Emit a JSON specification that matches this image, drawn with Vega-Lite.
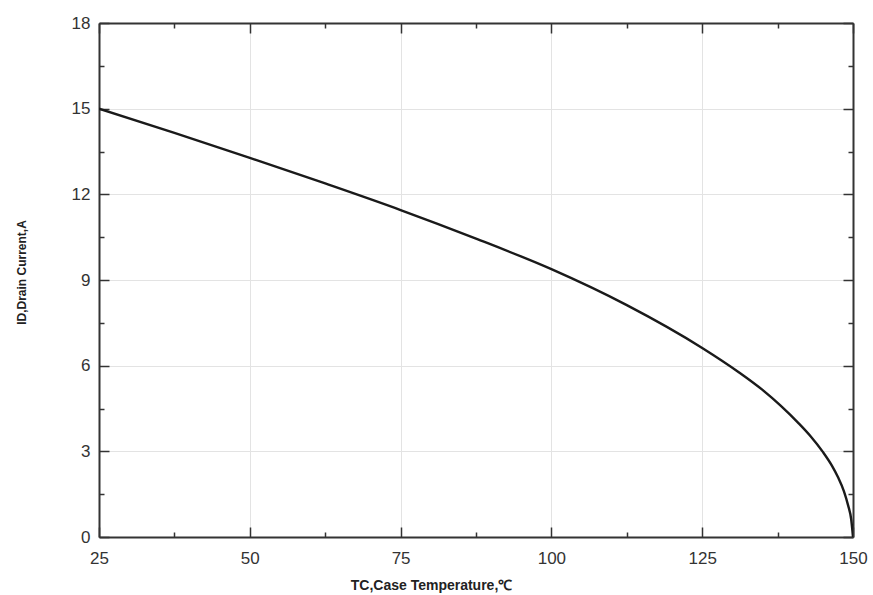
{
  "$schema": "https://vega.github.io/schema/vega-lite/v6.json",
  "autosize": {"type": "none"},
  "padding": {"left": 99, "top": 23, "right": 20, "bottom": 58},
  "width": 754,
  "height": 514,
  "background": "white",
  "config": {"view": {"stroke": null}},
  "data": {
    "values": [
      {"T": 25, "I": 15.0},
      {"T": 37.5, "I": 14.15},
      {"T": 50, "I": 13.28},
      {"T": 62.5, "I": 12.38},
      {"T": 75, "I": 11.45},
      {"T": 87.5, "I": 10.45},
      {"T": 100, "I": 9.38},
      {"T": 112.5, "I": 8.12},
      {"T": 125, "I": 6.62},
      {"T": 131, "I": 5.78},
      {"T": 135, "I": 5.15},
      {"T": 138, "I": 4.6},
      {"T": 141, "I": 3.98},
      {"T": 143, "I": 3.52},
      {"T": 145, "I": 2.98},
      {"T": 146.5, "I": 2.5},
      {"T": 147.5, "I": 2.1},
      {"T": 148.5, "I": 1.6},
      {"T": 149.2, "I": 1.1},
      {"T": 149.7, "I": 0.62},
      {"T": 150, "I": 0}
    ]
  },
  "layer": [
    {
      "mark": {"type": "line", "color": "#1a1a1a", "strokeWidth": 2.4, "interpolate": "monotone", "clip": true},
      "encoding": {
        "x": {
          "field": "T", "type": "quantitative",
          "scale": {"domain": [25, 150], "nice": false, "zero": false},
          "axis": {
            "orient": "bottom",
            "values": [25, 37.5, 50, 62.5, 75, 87.5, 100, 112.5, 125, 137.5, 150],
            "labelExpr": "datum.value % 25 === 0 ? datum.label : ''",
            "title": "TC,Case Temperature,℃",
            "titleFont": "Liberation Sans", "titleFontSize": 14, "titleFontWeight": "bold", "titleColor": "#222",
            "titleX": 332, "titleY": 48, "titleBaseline": "middle", "titleAlign": "center",
            "labelFont": "Liberation Sans", "labelFontSize": 17, "labelColor": "#333",
            "labelPadding": 23, "labelFlush": false,
            "tickSize": {"condition": {"test": "datum.value % 25 === 0", "value": -10}, "value": -5},
            "tickColor": "#333", "tickWidth": 1.5,
            "domainColor": "#333", "domainWidth": 2,
            "grid": true, "gridColor": "#e3e3e3", "gridWidth": 1,
            "gridOpacity": {"condition": {"test": "datum.value % 25 === 0", "value": 1}, "value": 0}
          }
        },
        "y": {
          "field": "I", "type": "quantitative",
          "scale": {"domain": [0, 18], "nice": false},
          "axis": {
            "orient": "left",
            "values": [0, 1.5, 3, 4.5, 6, 7.5, 9, 10.5, 12, 13.5, 15, 16.5, 18],
            "labelExpr": "datum.value % 3 === 0 ? datum.label : ''",
            "title": "ID,Drain Current,A",
            "titleFont": "Liberation Sans", "titleFontSize": 12, "titleFontWeight": "bold", "titleColor": "#222",
            "titleX": -78, "titleY": 249, "titleAngle": -90, "titleBaseline": "middle", "titleAlign": "center",
            "labelFont": "Liberation Sans", "labelFontSize": 17, "labelColor": "#333",
            "labelPadding": 19,
            "tickSize": {"condition": {"test": "datum.value % 3 === 0", "value": -10}, "value": -5},
            "tickColor": "#333", "tickWidth": 1.5,
            "domainColor": "#333", "domainWidth": 2,
            "grid": true, "gridColor": "#e3e3e3", "gridWidth": 1,
            "gridOpacity": {"condition": {"test": "datum.value % 3 === 0", "value": 1}, "value": 0}
          }
        }
      }
    },
    {
      "mark": {"type": "line", "opacity": 0},
      "encoding": {
        "x": {
          "field": "T", "type": "quantitative",
          "scale": {"domain": [25, 150], "nice": false, "zero": false},
          "axis": {
            "orient": "top", "title": null, "labels": false, "grid": false,
            "values": [25, 37.5, 50, 62.5, 75, 87.5, 100, 112.5, 125, 137.5, 150],
            "tickSize": {"condition": {"test": "datum.value % 25 === 0", "value": -10}, "value": -5},
            "tickColor": "#333", "tickWidth": 1.5,
            "domainColor": "#333", "domainWidth": 2
          }
        },
        "y": {
          "field": "I", "type": "quantitative",
          "scale": {"domain": [0, 18], "nice": false},
          "axis": {
            "orient": "right", "title": null, "labels": false, "grid": false,
            "values": [0, 1.5, 3, 4.5, 6, 7.5, 9, 10.5, 12, 13.5, 15, 16.5, 18],
            "tickSize": {"condition": {"test": "datum.value % 3 === 0", "value": -10}, "value": -5},
            "tickColor": "#333", "tickWidth": 1.5,
            "domainColor": "#333", "domainWidth": 2
          }
        }
      }
    }
  ],
  "resolve": {"scale": {"x": "independent", "y": "independent"}}
}
